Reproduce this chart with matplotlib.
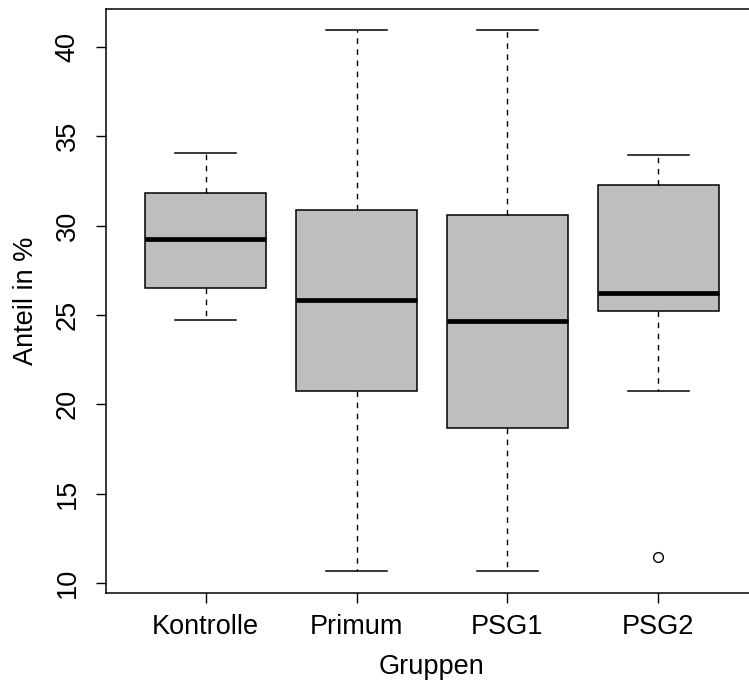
import matplotlib.pyplot as plt

groups = ["Kontrolle", "Primum", "PSG1", "PSG2"]
whisker_low = [24.72, 10.67, 10.67, 20.73]
q1 = [26.51, 20.73, 18.68, 25.22]
median = [29.25, 25.84, 24.66, 26.21]
q3 = [31.81, 30.88, 30.58, 32.26]
whisker_high = [34.07, 40.93, 40.93, 33.94]
outliers = [[], [], [], [11.46]]
y_ticks = [10, 15, 20, 25, 30, 35, 40]

plt.rcParams['font.family'] = ['Liberation Sans', 'DejaVu Sans']

# summary stats for bxp, one dict per group
stats = []
for i, name in enumerate(groups):
    stats.append(dict(label=name, whislo=whisker_low[i], q1=q1[i], med=median[i],
                      q3=q3[i], whishi=whisker_high[i], fliers=outliers[i]))

fig = plt.figure(figsize=(7.49, 6.86), dpi=100)
ax = fig.add_axes([0.1415, 0.1362, 0.8705, 0.851])

ax.bxp(stats, positions=range(1, len(groups) + 1), widths=0.8, capwidths=0.4,
       patch_artist=True,
       boxprops=dict(facecolor='#BEBEBE', edgecolor='black', linewidth=1.1),
       medianprops=dict(color='black', linewidth=3.4, solid_capstyle='butt'),
       whiskerprops=dict(color='black', linewidth=1.0, linestyle=(0, (4, 4))),
       capprops=dict(color='black', linewidth=1.1),
       flierprops=dict(marker='o', markerfacecolor='none', markeredgecolor='black',
                       markersize=7, markeredgewidth=1.0))

ax.set_xlim(0.34, 4.66)
ax.set_ylim(9.46, 42.14)
ax.set_yticks(y_ticks)
ax.set_yticklabels([str(t) for t in y_ticks], rotation=90, va='center')
ax.set_xticks(range(1, len(groups) + 1))
ax.set_xticklabels(groups)

ax.tick_params(axis='both', labelsize=19.5, length=7.2, width=1.0, direction='out')
ax.tick_params(axis='y', pad=11)
ax.tick_params(axis='x', pad=8)
for s in ax.spines.values():
    s.set_linewidth(1.1)

ax.set_xlabel("Gruppen", fontsize=19.5, labelpad=10)
ax.set_ylabel("Anteil in %", fontsize=19.5, labelpad=11)

fig.savefig("out.png", dpi=100)
